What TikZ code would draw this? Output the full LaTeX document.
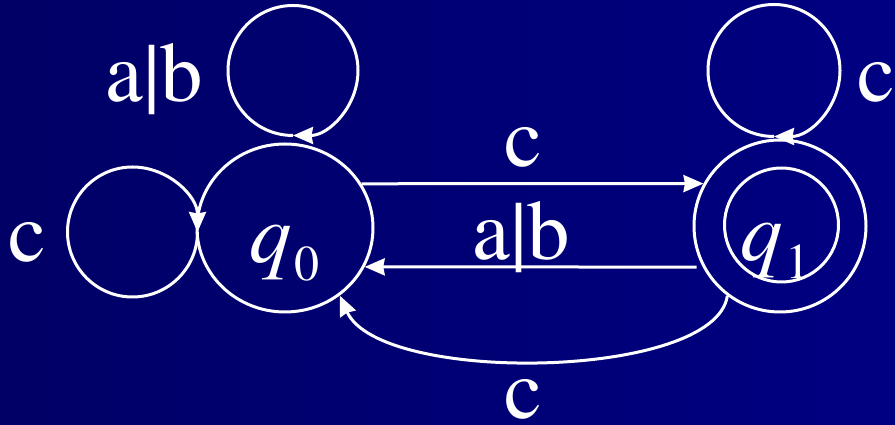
\documentclass[tikz,border=0pt]{standalone}
\usepackage{fontspec}
\newfontfamily\tnr{texgyretermes}[Extension=.otf, UprightFont=*-regular, ItalicFont=*-italic, BoldFont=*-bold]
\usetikzlibrary{arrows.meta,shapes.geometric}
\definecolor{bgleft}{RGB}{0,0,102}
\definecolor{bgright}{RGB}{0,0,130}
\begin{document}
\begin{tikzpicture}[x=1pt,y=1pt,
  wire/.style={draw=white, line width=3pt},
  arr/.style={wire, -{Stealth[length=20pt,width=17pt,inset=1.5pt]}},
  statebox/.style={draw=white, line width=3pt, inner sep=0pt},
  lbl/.style={text=white, inner sep=0pt, anchor=base, font=\tnr\fontsize{85}{90}\selectfont}]
\useasboundingbox (0,0) rectangle (895,425);
\shade[left color=bgleft, right color=bgright] (0,0) rectangle (895,425);
% states
\node[statebox, ellipse, minimum width=176pt, minimum height=168pt] (q0) at (285,197) {};
\node[statebox, circle, minimum size=172pt] (q1) at (780,199) {};
\node[statebox, circle, minimum size=114pt] (q1in) at (781.5,200) {};
% state labels
\node[lbl] (q0lbl) at (284.5,162) {\itshape q\upshape\kern2pt\raisebox{-18pt}{\fontsize{50}{50}\selectfont 0}};
\node[lbl] (q1lbl) at (775.5,164) {\itshape q\upshape\kern2pt\raisebox{-18pt}{\fontsize{50}{50}\selectfont 1}};
% self loops
\draw[arr] ([shift={(8,7)}]q0.north) arc[start angle=270, end angle=-90, radius=65];
\draw[arr] ([shift={(2,-4)}]q0.west) arc[start angle=0, end angle=-360, radius=65];
\draw[arr] ([shift={(-6,2)}]q1.north) arc[start angle=270, end angle=-90, radius=66];
% transitions between states
\draw[arr] (q0.30) -- (q1.151);
\draw[arr] ([xshift=-6pt]q1.208) -- (q0.-26);
\draw[arr] (q1.233) .. controls (715,45) and (380,40) .. (q0.-51.3);
% transition labels
\node[lbl] (lab1) at (154,323) {a|b};
\node[lbl] (lab2) at (27.5,163) {c};
\node[lbl] (lab3) at (876,323) {c};
\node[lbl] (lab4) at (523.5,258) {c};
\node[lbl] (lab5) at (521.5,165) {a|b};
\node[lbl] (lab6) at (523.5,6) {c};
\end{tikzpicture}
\end{document}
